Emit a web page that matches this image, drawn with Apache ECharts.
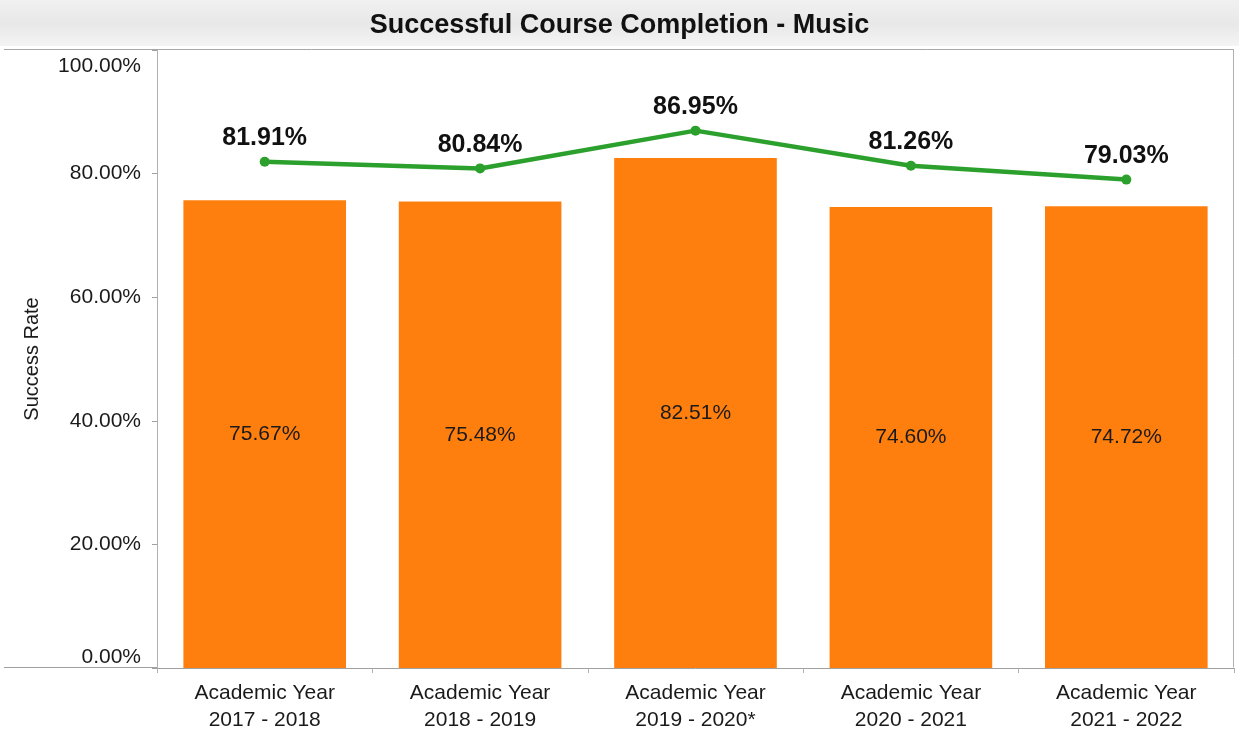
<!DOCTYPE html>
<html>
<head>
<meta charset="utf-8">
<script src="https://cdn.jsdelivr.net/npm/echarts@6/dist/echarts.min.js"></script>
<style>
  html, body { margin: 0; padding: 0; background: #fff; }
  #chart { width: 1239px; height: 730px; }
</style>
</head>
<body>
<div id="chart"></div>
<script>
// Academic years shown along the x axis
const categories = [
  'Academic Year\n2017 - 2018',
  'Academic Year\n2018 - 2019',
  'Academic Year\n2019 - 2020*',
  'Academic Year\n2020 - 2021',
  'Academic Year\n2021 - 2022'
];
// Music course success rate (bars), in percent
const musicRate = [75.67, 75.48, 82.51, 74.60, 74.72];
// Comparison success rate (line), in percent
const overallRate = [81.91, 80.84, 86.95, 81.26, 79.03];
// Value axis ticks
const yTicks = [0, 20, 40, 60, 80, 100];

const FONT = '"Liberation Sans", Arial, sans-serif';
const pct = v => v.toFixed(2) + '%';

const chart = echarts.init(document.getElementById('chart'), null, { renderer: 'canvas' });

chart.setOption({
  animation: false,
  backgroundColor: '#ffffff',
  textStyle: { fontFamily: FONT },
  title: {
    text: 'Successful Course Completion - Music',
    left: 'center',
    top: 7,
    textStyle: { fontFamily: FONT, fontSize: 27, fontWeight: 'bold', color: '#111' }
  },
  graphic: [
    {
      type: 'rect', z: -10, silent: true,
      shape: { x: 0, y: 0, width: 1239, height: 46 },
      style: {
        fill: new echarts.graphic.LinearGradient(0, 0, 0, 1, [
          { offset: 0, color: '#f1f1f1' },
          { offset: 0.5, color: '#e8e8e8' },
          { offset: 1, color: '#f4f4f4' }
        ])
      }
    },
    // frame lines running under the value-axis labels
    { type: 'line', silent: true, shape: { x1: 4, y1: 49.5, x2: 1234, y2: 49.5 }, style: { stroke: '#a8a8a8', lineWidth: 1 } },
    { type: 'line', silent: true, shape: { x1: 4, y1: 667.5, x2: 157, y2: 667.5 }, style: { stroke: '#a0a0a0', lineWidth: 1 } },
    { type: 'line', silent: true, shape: { x1: 1233.5, y1: 49.5, x2: 1233.5, y2: 667.5 }, style: { stroke: '#b0b0b0', lineWidth: 1 } }
  ],
  grid: { left: 157, right: 5, top: 50, bottom: 62, containLabel: false, outerBoundsMode: 'none' },
  xAxis: {
    type: 'category',
    data: categories,
    axisLine: { show: true, lineStyle: { color: '#a0a0a0' } },
    axisTick: { show: true, alignWithLabel: false, length: 5, lineStyle: { color: '#b0b0b0' } },
    axisLabel: {
      color: '#1a1a1a', fontFamily: FONT, fontSize: 21, lineHeight: 27, margin: 12, interval: 0
    }
  },
  yAxis: {
    type: 'value',
    min: 0, max: 100, interval: 20,
    name: 'Success Rate',
    nameLocation: 'middle',
    nameGap: 115,
    nameRotate: 90,
    nameTextStyle: { color: '#1a1a1a', fontFamily: FONT, fontSize: 20 },
    axisLine: { show: true, lineStyle: { color: '#b0b0b0' } },
    axisTick: { show: true, length: 5, lineStyle: { color: '#a0a0a0' } },
    splitLine: { show: false },
    axisLabel: {
      color: '#1a1a1a', fontFamily: FONT, fontSize: 21, margin: 16,
      verticalAlignMaxLabel: 'top',
      verticalAlignMinLabel: 'bottom',
      formatter: v => {
        if (!yTicks.includes(v)) return '';
        return v === 100 ? '{top|' + pct(v) + '}' : pct(v);
      },
      rich: {
        top: { fontFamily: FONT, fontSize: 21, color: '#1a1a1a', padding: [6, 0, 0, 0] }
      }
    }
  },
  series: [
    {
      name: 'Music',
      type: 'bar',
      data: musicRate,
      barCategoryGap: '24.5%',
      itemStyle: { color: '#ff7f0e' },
      label: {
        show: true, position: 'inside', color: '#1a1a1a',
        fontFamily: FONT, fontSize: 21,
        formatter: p => pct(p.value)
      },
      z: 2
    },
    {
      name: 'Overall',
      type: 'line',
      data: overallRate,
      symbol: 'circle',
      symbolSize: 10,
      lineStyle: { color: '#2ca02c', width: 4.5 },
      itemStyle: { color: '#2ca02c' },
      label: {
        show: true, position: 'top', distance: 6, color: '#111',
        fontFamily: FONT, fontSize: 25, fontWeight: 'bold',
        formatter: p => pct(p.value)
      },
      z: 3
    }
  ]
});
</script>
</body>
</html>
